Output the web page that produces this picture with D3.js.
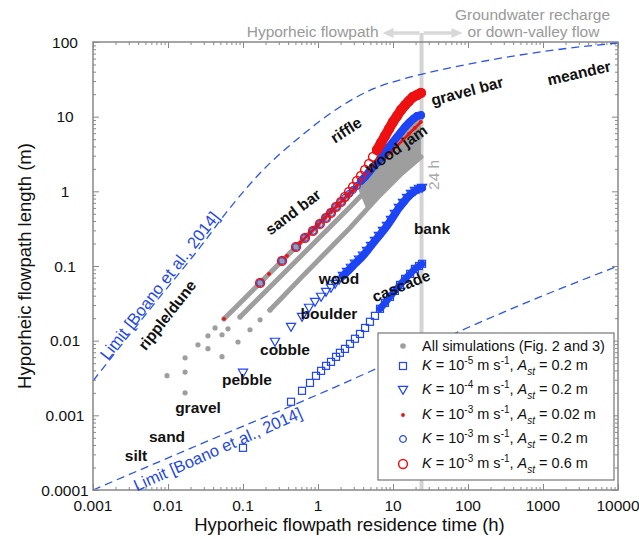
<!DOCTYPE html>
<html>
<head>
<meta charset="utf-8">
<script src="https://cdn.jsdelivr.net/npm/d3@7"></script>
<style>
  body { margin: 0; background: #fff; }
  svg { font-family: "Liberation Sans", Arial, sans-serif; }
</style>
</head>
<body>
<div id="wrapper"></div>
<script>
// axis ticks
const xTickValues = [0.001, 0.01, 0.1, 1, 10, 100, 1000, 10000]
const xTickLabels = ["0.001", "0.01", "0.1", "1", "10", "100", "1000", "10000"]
const yTickValues = [0.0001, 0.001, 0.01, 0.1, 1, 10, 100]
const yTickLabels = ["0.0001", "0.001", "0.01", "0.1", "1", "10", "100"]

// [residence time (h), flowpath length (m)]
const limitUpper = [[0.001, 0.0029], [0.0067, 0.032], [0.027, 0.18], [0.067, 0.6], [0.185, 1.93],
  [0.575, 5.35], [1.96, 13.5], [5.41, 23.5], [15.4, 33], [42, 42], [144, 54], [494, 67], [2290, 83], [10000, 97]]
const limitLower = [[0.001, 0.0001], [0.03, 0.00043], [1, 0.0019], [10, 0.0053], [100, 0.015], [1000, 0.04], [10000, 0.1]]

// all simulations: separate dots and the dense strands
const grayDots = [[0.0097, 0.0034], [0.0169, 0.0059], [0.0251, 0.0088], [0.0341, 0.0116], [0.0424, 0.0148], [0.0558, 0.0196],
  [0.0169, 0.0038], [0.0341, 0.0078], [0.0525, 0.012], [0.0631, 0.0144], [0.0912, 0.0208],
  [0.0169, 0.002], [0.0525, 0.0061], [0.0857, 0.0096], [0.124, 0.014], [0.169, 0.019], [0.229, 0.0258]]
const grayBand1 = [[0.0558, 0.0196], [0.0736, 0.0258], [0.169, 0.0594], [0.575, 0.204], [2.67, 0.953], [6.71, 2.63], [12.4, 5.35], [23.6, 9.6]]
const grayBand2 = [[0.0912, 0.0208], [0.124, 0.0283], [0.575, 0.132], [2.67, 0.618], [6.71, 1.61], [12.4, 3.07], [23.6, 5.52]]
const grayBand3 = [[0.229, 0.0258], [0.311, 0.0352], [0.575, 0.0672], [2.67, 0.324], [6.71, 0.895], [12.4, 1.66], [23.6, 2.89]]
const grayFan = [[3.31, 1.18], [6.71, 2.63], [12.4, 5.35], [23.6, 9.6], [23.6, 2.89], [12.4, 1.66], [6.71, 0.895], [4.5, 0.55]]

// K = 1e-5, Ast = 0.2 (squares)
const squaresK5 = [[0.1, 0.000367], [0.437, 0.00152], [0.612, 0.00213], [0.782, 0.00272], [0.94, 0.00338], [1.1, 0.00394],
  [1.28, 0.0046], [1.49, 0.0052], [1.74, 0.00607], [1.96, 0.00687], [2.29, 0.00776], [2.67, 0.00906], [3.11, 0.0106],
  [3.63, 0.0123], [4.24, 0.0148], [4.93, 0.0179], [5.75, 0.0215], [6.71, 0.0267], [7.82, 0.032], [9.12, 0.0386],
  [10.6, 0.0464], [12.4, 0.0558], [14.5, 0.0672], [16.9, 0.0784], [19.6, 0.0915], [22.2, 0.1], [24.4, 0.107]]
// K = 1e-4, Ast = 0.2 (triangles)
const trianglesK4 = [[0.1, 0.00371], [0.267, 0.00964], [0.437, 0.0153], [0.612, 0.0208], [0.759, 0.0275], [0.912, 0.033],
  [1.1, 0.0386], [1.28, 0.045], [1.49, 0.0509], [1.69, 0.0575], [1.91, 0.0652], [2.15, 0.0737], [2.44, 0.0834],
  [2.75, 0.0944], [3.11, 0.107], [3.52, 0.121], [3.98, 0.137], [4.5, 0.159], [5.09, 0.186], [5.75, 0.217], [6.5, 0.253],
  [7.36, 0.295], [8.32, 0.344], [9.4, 0.414], [10.6, 0.498], [12.0, 0.6], [13.6, 0.7], [15.4, 0.816], [17.4, 0.923],
  [19.6, 1.01], [22.2, 1.08], [24.4, 1.11]]
// K = 1e-3, Ast = 0.02 (red dots)
const dotsK3A002 = [[0.0558, 0.0196], [0.222, 0.0784], [0.386, 0.137], [0.575, 0.204], [0.782, 0.277], [1.0, 0.355],
  [1.24, 0.441], [1.49, 0.53], [1.79, 0.638], [2.15, 0.767], [2.59, 0.923], [3.11, 1.11], [3.74, 1.34], [4.5, 1.61],
  [5.41, 1.93], [6.5, 2.33], [7.82, 2.8], [9.4, 3.37], [11.3, 4.05], [13.6, 4.88], [16.3, 5.87], [19.6, 7.06], [23.6, 8.49]]
// K = 1e-3, Ast = 0.2 (blue circles)
const circlesK3A02 = [[0.169, 0.0594], [0.331, 0.117], [0.509, 0.18], [0.671, 0.238], [0.857, 0.295], [1.06, 0.366],
  [1.28, 0.441], [1.49, 0.514], [1.74, 0.618], [2.03, 0.721], [2.29, 0.82], [2.59, 0.923], [2.93, 1.04], [3.31, 1.18],
  [3.74, 1.38], [4.24, 1.56], [4.79, 1.82], [5.41, 2.12], [6.12, 2.4], [6.92, 2.8], [7.82, 3.37], [8.84, 3.93],
  [10.0, 4.58], [11.3, 5.35], [12.8, 6.24], [14.5, 7.28], [16.3, 8.24], [18.5, 9.31], [20.9, 10.2], [23.6, 10.5]]
// K = 1e-3, Ast = 0.6 (red circles)
const circlesK3A06 = [[0.169, 0.0594], [0.331, 0.117], [0.509, 0.18], [0.671, 0.238], [0.857, 0.295], [1.06, 0.366],
  [1.28, 0.441], [1.49, 0.514], [1.74, 0.618], [2.03, 0.721], [2.29, 0.841], [2.59, 0.982], [2.93, 1.15], [3.31, 1.38],
  [3.74, 1.61], [4.24, 1.93], [4.79, 2.33], [5.41, 2.89], [6.12, 3.58], [6.92, 4.45], [7.82, 5.52], [8.84, 6.84],
  [10.0, 8.49], [11.3, 10.2], [12.8, 12.3], [14.5, 14.3], [16.3, 16.2], [18.5, 18.4], [20.9, 19.5], [23.6, 20.8]]

const legendK = ["-5", "-4", "-3", "-3", "-3"]
const legendAst = ["0.2", "0.2", "0.02", "0.2", "0.6"]

// feature labels, anchored in data units
const featureLabels = [
  {text: "silt", t: 0.00374, L: 0.000287, angle: 0},
  {text: "sand", t: 0.0097, L: 0.000515, angle: 0},
  {text: "gravel", t: 0.0251, L: 0.00126, angle: 0},
  {text: "pebble", t: 0.113, L: 0.00299, angle: 0},
  {text: "cobble", t: 0.363, L: 0.00753, angle: 0},
  {text: "boulder", t: 1.40, L: 0.0229, angle: 0},
  {text: "wood", t: 1.91, L: 0.0672, angle: 0},
  {text: "bank", t: 33.1, L: 0.314, angle: 0},
  {text: "cascade", t: 12.8, L: 0.0542, angle: -22},
  {text: "ripple/dune", t: 0.0097, L: 0.0221, angle: -52},
  {text: "sand bar", t: 0.464, L: 0.53, angle: -37},
  {text: "riffle", t: 2.36, L: 6.64, angle: -33},
  {text: "wood jam", t: 11.0, L: 3.7, angle: -35},
  {text: "gravel bar", t: 97, L: 22.1, angle: -15},
  {text: "meander", t: 3020, L: 38.5, angle: -13},
]
// limit labels sit with their baseline on the dashed curve
const limitLabels = [
  {text: "Limit [Boano et al., 2014]", t: 0.0091, L: 0.048, angle: -52, dy: -1},
  {text: "Limit [Boano et al., 2014]", t: 0.0464, L: 0.000345, angle: -24, dy: 5},
]

const blue = "#1d45f5"
const red = "#ee1111"
const gray = "#9e9e9e"

let dimensions = {
  width: 639,
  height: 539,
  margin: {top: 42, right: 21, bottom: 49, left: 93},
}
dimensions.boundedWidth = dimensions.width - dimensions.margin.left - dimensions.margin.right
dimensions.boundedHeight = dimensions.height - dimensions.margin.top - dimensions.margin.bottom

const wrapper = d3.select("#wrapper")
  .append("svg")
    .attr("width", dimensions.width)
    .attr("height", dimensions.height)

const bounds = wrapper.append("g")
  .attr("transform", `translate(${dimensions.margin.left},${dimensions.margin.top})`)

const xScale = d3.scaleLog()
  .domain([0.001, 10000])
  .range([0, dimensions.boundedWidth])
const yScale = d3.scaleLog()
  .domain([0.0001, 100])
  .range([dimensions.boundedHeight, 0])

const lineGenerator = d3.line()
  .x(d => xScale(d[0]))
  .y(d => yScale(d[1]))

// axes, ticks pointing inwards on all four sides
const minorX = xScale.ticks().filter(v => !xTickValues.includes(v))
const minorY = yScale.ticks().filter(v => !yTickValues.includes(v))

function styleAxis(g) {
  g.select(".domain").remove()
  g.selectAll("line").attr("stroke", "#888").attr("stroke-width", 1)
}

const axisDefs = [
  {gen: d3.axisBottom, scale: xScale, major: xTickValues, minor: minorX, at: `translate(0,${dimensions.boundedHeight})`},
  {gen: d3.axisTop, scale: xScale, major: xTickValues, minor: minorX, at: "translate(0,0)"},
  {gen: d3.axisLeft, scale: yScale, major: yTickValues, minor: minorY, at: "translate(0,0)"},
  {gen: d3.axisRight, scale: yScale, major: yTickValues, minor: minorY, at: `translate(${dimensions.boundedWidth},0)`},
]
axisDefs.forEach(a => {
  bounds.append("g").attr("transform", a.at)
    .call(a.gen(a.scale).tickValues(a.minor).tickSize(-3).tickFormat(""))
    .call(styleAxis)
  bounds.append("g").attr("transform", a.at)
    .call(a.gen(a.scale).tickValues(a.major).tickSize(-6).tickFormat(""))
    .call(styleAxis)
})

bounds.append("g").selectAll("text")
  .data(xTickValues)
  .join("text")
    .attr("x", d => xScale(d))
    .attr("y", dimensions.boundedHeight + 21)
    .attr("text-anchor", "middle")
    .attr("font-size", 15.5)
    .attr("fill", "#111")
    .text((d, i) => xTickLabels[i])

bounds.append("g").selectAll("text")
  .data(yTickValues)
  .join("text")
    .attr("x", -28)
    .attr("y", d => yScale(d))
    .attr("dy", "0.36em")
    .attr("text-anchor", "middle")
    .attr("font-size", 15.5)
    .attr("fill", "#111")
    .text((d, i) => yTickLabels[i])

bounds.append("text")
  .attr("x", dimensions.boundedWidth / 2 - 6)
  .attr("y", dimensions.boundedHeight + 41)
  .attr("text-anchor", "middle")
  .attr("font-size", 18.5)
  .attr("fill", "#111")
  .text("Hyporheic flowpath residence time (h)")

bounds.append("text")
  .attr("transform", `translate(-62,${dimensions.boundedHeight / 2}) rotate(-90)`)
  .attr("text-anchor", "middle")
  .attr("font-size", 18.5)
  .attr("fill", "#111")
  .text("Hyporheic flowpath length (m)")

// 24 h divider and the arrows above the frame
const x24 = xScale(24)
bounds.append("line")
  .attr("x1", x24).attr("x2", x24)
  .attr("y1", -9).attr("y2", dimensions.boundedHeight)
  .attr("stroke", "#d3d3d3")
  .attr("stroke-width", 4)

const arrowColor = "#d8d8d8"
bounds.append("line")
  .attr("x1", x24 - 2).attr("x2", x24 - 30).attr("y1", -9).attr("y2", -9)
  .attr("stroke", arrowColor).attr("stroke-width", 3.5)
bounds.append("path")
  .attr("d", `M${x24 - 39},-9 L${x24 - 28},-14 L${x24 - 28},-4 Z`)
  .attr("fill", arrowColor)
bounds.append("line")
  .attr("x1", x24 + 2).attr("x2", x24 + 32).attr("y1", -9).attr("y2", -9)
  .attr("stroke", arrowColor).attr("stroke-width", 3.5)
bounds.append("path")
  .attr("d", `M${x24 + 41},-9 L${x24 + 30},-14 L${x24 + 30},-4 Z`)
  .attr("fill", arrowColor)

const topNotes = bounds.append("g").attr("fill", "#999").attr("font-size", 15.5)
topNotes.append("text")
  .attr("x", x24 - 43).attr("y", -5).attr("text-anchor", "end")
  .text("Hyporheic flowpath")
topNotes.append("text")
  .attr("x", x24 + 111).attr("y", -22).attr("text-anchor", "middle")
  .text("Groundwater recharge")
topNotes.append("text")
  .attr("x", x24 + 112).attr("y", -5).attr("text-anchor", "middle")
  .text("or down-valley flow")
bounds.append("text")
  .attr("transform", `translate(${x24 + 17},${yScale(1.66)}) rotate(-90)`)
  .attr("text-anchor", "middle")
  .attr("fill", "#aaa")
  .attr("font-size", 15.5)
  .text("24 h")

// limits
;[limitUpper, limitLower].forEach(lim => {
  bounds.append("path")
    .attr("d", lineGenerator.curve(d3.curveMonotoneX)(lim))
    .attr("fill", "none")
    .attr("stroke", "#2b55e8")
    .attr("stroke-width", 1.3)
    .attr("stroke-dasharray", "8,5")
})
lineGenerator.curve(d3.curveLinear)

// all simulations
bounds.append("path")
  .attr("d", lineGenerator(grayFan) + "Z")
  .attr("fill", gray)
;[grayBand1, grayBand2, grayBand3].forEach(band => {
  bounds.append("path")
    .attr("d", lineGenerator(band))
    .attr("fill", "none")
    .attr("stroke", gray)
    .attr("stroke-width", 5)
    .attr("stroke-linecap", "round")
})
bounds.append("g").selectAll("circle")
  .data(grayDots)
  .join("circle")
    .attr("cx", d => xScale(d[0]))
    .attr("cy", d => yScale(d[1]))
    .attr("r", 2.6)
    .attr("fill", gray)

// marker painters
const markers = {
  square: g => g.append("rect").attr("x", -3.5).attr("y", -3.5).attr("width", 7).attr("height", 7)
    .attr("fill", "none").attr("stroke", blue).attr("stroke-width", 1.2),
  triangle: g => g.append("path").attr("d", "M-4.6,-3.6 L4.6,-3.6 L0,4.4 Z")
    .attr("fill", "none").attr("stroke", blue).attr("stroke-width", 1.2),
  reddot: g => g.append("circle").attr("r", 1.9).attr("fill", red),
  bluecircle: g => g.append("circle").attr("r", 3.3)
    .attr("fill", "none").attr("stroke", blue).attr("stroke-width", 1.3),
  redcircle: g => g.append("circle").attr("r", 4.4)
    .attr("fill", "none").attr("stroke", red).attr("stroke-width", 1.5),
  graydot: g => g.append("circle").attr("r", 2.8).attr("fill", gray),
}

const seriesDefs = [
  {data: squaresK5, marker: "square", color: blue, dense: 17, band: 7},
  {data: trianglesK4, marker: "triangle", color: blue, dense: 11, band: 8},
  {data: dotsK3A002, marker: "reddot", color: red, dense: 3, band: 2.6},
  {data: circlesK3A02, marker: "bluecircle", color: blue, dense: 14, band: 8},
  {data: circlesK3A06, marker: "redcircle", color: red, dense: 18, band: 10},
]

seriesDefs.forEach(s => {
  bounds.append("path")
    .attr("d", lineGenerator(s.data.slice(s.dense)))
    .attr("fill", "none")
    .attr("stroke", s.color)
    .attr("stroke-width", s.band)
    .attr("stroke-linecap", "round")
  bounds.append("g").selectAll("g")
    .data(s.data)
    .join("g")
      .attr("transform", d => `translate(${xScale(d[0])},${yScale(d[1])})`)
      .each(function() { markers[s.marker](d3.select(this)) })
})

// frame
bounds.append("rect")
  .attr("width", dimensions.boundedWidth)
  .attr("height", dimensions.boundedHeight)
  .attr("fill", "none")
  .attr("stroke", "#888")
  .attr("stroke-width", 1.5)

// labels
bounds.append("g").selectAll("text")
  .data(featureLabels)
  .join("text")
    .attr("transform", d => `translate(${xScale(d.t)},${yScale(d.L)}) rotate(${d.angle})`)
    .attr("text-anchor", "middle")
    .attr("dominant-baseline", "central")
    .attr("font-size", 15.5)
    .attr("font-weight", "bold")
    .attr("fill", "#111")
    .text(d => d.text)

bounds.append("g").selectAll("text")
  .data(limitLabels)
  .join("text")
    .attr("transform", d => `translate(${xScale(d.t)},${yScale(d.L)}) rotate(${d.angle})`)
    .attr("dy", d => d.dy)
    .attr("text-anchor", "middle")
    .attr("font-size", 16.5)
    .attr("fill", "#2448e6")
    .text(d => d.text)

// legend
const legend = wrapper.append("g")
legend.append("rect")
  .attr("x", 378).attr("y", 333)
  .attr("width", 236).attr("height", 147)
  .attr("fill", "#fff")
  .attr("stroke", "#777")
  .attr("stroke-width", 1.2)

const legendRowsY = [346, 366, 390, 415, 439, 464]
const legendMarkers = ["graydot", "square", "triangle", "reddot", "bluecircle", "redcircle"]
legendMarkers.forEach((m, i) => {
  const g = legend.append("g").attr("transform", `translate(403,${legendRowsY[i]})`)
  markers[m](g)
})

legend.append("text")
  .attr("x", 422).attr("y", legendRowsY[0] + 5)
  .attr("font-size", 14.5)
  .attr("fill", "#111")
  .text("All simulations (Fig. 2 and 3)")

legendK.forEach((k, i) => {
  const t = legend.append("text")
    .attr("x", 422).attr("y", legendRowsY[i + 1] + 4)
    .attr("font-size", 14.5)
    .attr("fill", "#111")
  t.append("tspan").attr("font-style", "italic").text("K")
  t.append("tspan").text(" = 10")
  t.append("tspan").attr("dy", -6).attr("font-size", 10).text(k)
  t.append("tspan").attr("dy", 6).text(" m s")
  t.append("tspan").attr("dy", -6).attr("font-size", 10).text("-1")
  t.append("tspan").attr("dy", 6).text(", ")
  t.append("tspan").attr("font-style", "italic").text("A")
  t.append("tspan").attr("dy", 5).attr("font-size", 10).attr("font-style", "italic").text("st")
  t.append("tspan").attr("dy", -5).text(` = ${legendAst[i]} m`)
})
</script>
</body>
</html>
